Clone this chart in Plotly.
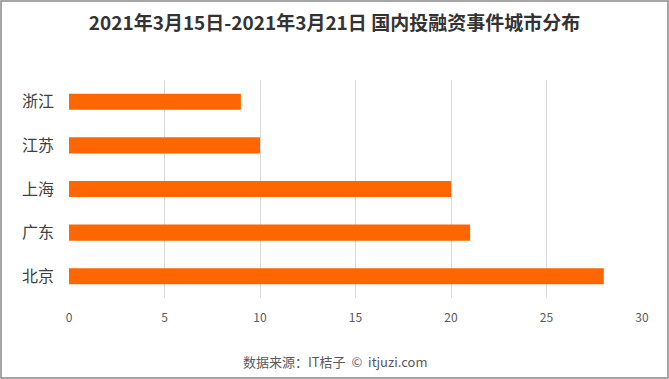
import plotly.graph_objects as go

cities = ["北京", "广东", "上海", "江苏", "浙江"]
counts = [28, 21, 20, 10, 9]
x_ticks = [0, 5, 10, 15, 20, 25, 30]

W, H = 669, 379
L, R, T, B = 69, 27, 80, 81
pw, ph = W - L - R, H - T - B

fig = go.Figure(go.Bar(
    y=cities, x=counts, orientation="h",
    marker=dict(color="#FF6600", line=dict(width=0)),
    width=0.37, hoverinfo="skip",
))

font = "Noto Sans CJK SC, Microsoft YaHei, sans-serif"
fig.update_layout(
    width=W, height=H,
    margin=dict(l=L, r=R, t=T, b=B, autoexpand=False),
    paper_bgcolor="white", plot_bgcolor="white",
    font=dict(family=font, color="#595959"),
    showlegend=False,
    title=dict(text="<b>2021年3月15日-2021年3月21日 国内投融资事件城市分布</b>",
               x=0.5, xanchor="center", y=1 - 23 / H, yanchor="middle",
               font=dict(size=19, color="#333333", family=font)),
    xaxis=dict(range=[0, 30], tickvals=x_ticks, showgrid=True, gridcolor="#d9d9d9",
               gridwidth=1, zeroline=False, showline=False, automargin=False,
               tickfont=dict(size=12, color="#595959"), ticklen=0, ticks="",
               ticklabelstandoff=11),
    yaxis=dict(categoryorder="array", categoryarray=cities,
               showgrid=False, zeroline=False, automargin=False,
               tickfont=dict(size=16, color="#404040"), ticks="", ticklabelstandoff=14),
    annotations=[dict(text="数据来源：IT桔子  ©  itjuzi.com", xref="paper", yref="paper",
                      x=(W / 2 - L) / pw, y=-(361 - (T + ph)) / ph,
                      xanchor="center", yanchor="middle", showarrow=False,
                      font=dict(size=13, color="#595959", family=font))],
    shapes=[dict(type="rect", xref="paper", yref="paper",
                 x0=-(L - 1) / pw, x1=(pw + R - 1) / pw,
                 y0=-(B - 1) / ph, y1=(ph + T - 1) / ph,
                 line=dict(color="#888888", width=1.5), fillcolor="rgba(0,0,0,0)")],
)
fig.write_html("out.html", config={"displayModeBar": False, "staticPlot": True},
               post_script="document.body.style.margin='0';document.body.style.overflow='hidden';")
